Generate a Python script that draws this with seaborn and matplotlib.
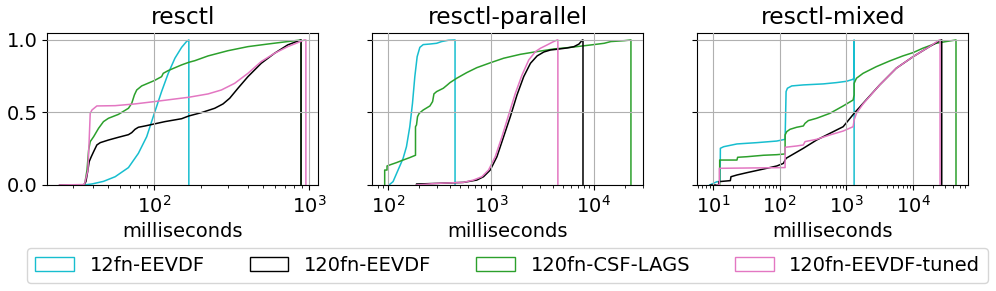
import matplotlib
matplotlib.use("Agg")
import matplotlib.pyplot as plt
import matplotlib.patches as mpatches
import seaborn as sns
import pandas as pd

# ---------------- data (CDF knots) ----------------
panels = ["resctl", "resctl-parallel", "resctl-mixed"]
series = ["12fn-EEVDF", "120fn-EEVDF", "120fn-CSF-LAGS", "120fn-EEVDF-tuned"]
colors = ["#17becf", "black", "#2ca02c", "#e377c2"]
draw_order = [0, 2, 1, 3]

# resctl
p1_cyan_x = [35.0, 39.6, 47.0, 55.9, 68.1, 78.9, 89.3, 100, 111.4, 123, 135.8, 150, 161.3, 167]
p1_cyan_y = [0.0, 0.007, 0.025, 0.057, 0.120, 0.218, 0.333, 0.494, 0.644, 0.770, 0.874, 0.949, 0.989, 1.0]
p1_black_x = [24.5, 35.0, 36.2, 37.3, 38.0, 39.2, 40.6, 42.6, 44.8, 50.6, 58.7, 68.1, 71.5, 75.1,
              78.9, 87.1, 100, 117.1, 150, 167, 201.4, 245.3, 277.5, 306.3, 346.4, 401.8, 489.3,
              596, 725.8, 884]
p1_black_y = [0.0, 0.0, 0.023, 0.103, 0.161, 0.195, 0.230, 0.276, 0.292, 0.310, 0.329, 0.347, 0.361,
              0.384, 0.398, 0.407, 0.421, 0.437, 0.457, 0.476, 0.499, 0.529, 0.559, 0.598, 0.667,
              0.747, 0.839, 0.908, 0.966, 1.0]
p1_green_x = [35.5, 36.8, 37.7, 38.6, 40.6, 43.7, 47.0, 50.6, 58.7, 68.1, 71.5, 74.4, 77.0, 82.9,
              100, 111.4, 114.2, 123, 150, 167, 182.4, 222.3, 298.8, 401.8, 539.9, 725.8, 884]
p1_green_y = [0.0, 0.103, 0.241, 0.299, 0.333, 0.391, 0.437, 0.460, 0.487, 0.529, 0.563, 0.621,
              0.655, 0.683, 0.720, 0.747, 0.770, 0.789, 0.828, 0.846, 0.857, 0.890, 0.926, 0.954,
              0.972, 0.989, 1.0]
p1_pink_x = [24.5, 35.0, 35.5, 37.3, 38.0, 38.6, 39.6, 42.6, 55.9, 75.1, 100, 135.8, 167, 222.3,
             270.7, 329.8, 401.8, 489.3, 596, 725.8, 928.8, 950]
p1_pink_y = [0.0, 0.003, 0.007, 0.103, 0.310, 0.494, 0.517, 0.545, 0.547, 0.559, 0.575, 0.593,
             0.605, 0.628, 0.655, 0.701, 0.770, 0.851, 0.908, 0.954, 1.0, 1.0]

# resctl-parallel
p2_cyan_x = [102.3, 111.9, 125.2, 140.2, 151.1, 162.8, 172.9, 182.2, 192, 203.9, 219.8, 255.4,
             296.8, 332, 385.8, 448.3]
p2_cyan_y = [0.0, 0.023, 0.103, 0.184, 0.264, 0.402, 0.563, 0.747, 0.885, 0.949, 0.968, 0.972,
             0.977, 0.989, 0.998, 1.0]
p2_black_x = [189.2, 189.2, 196.4, 296.8, 540.8, 729.8, 847.8, 985, 1145, 1330, 1545, 1795, 2085,
              2424, 2815, 3271, 3801, 4416, 5530, 6425, 7190, 7750, 7860]
p2_black_y = [0.0, 0.007, 0.007, 0.011, 0.018, 0.034, 0.057, 0.103, 0.195, 0.333, 0.471, 0.621,
              0.747, 0.839, 0.890, 0.917, 0.931, 0.936, 0.945, 0.954, 0.972, 1.0, 1.0]
p2_green_x = [92.8, 92.8, 97.8, 97.8, 103.8, 120.6, 140.2, 162.8, 185, 185, 189.2, 193.5, 200.9,
              219.8, 255.4, 271.2, 279.5, 296.8, 344.7, 377.2, 400.5, 465.4, 582.9, 729.8, 1000,
              1330, 1935, 2815, 4097, 5960, 10000, 12618, 14660, 19790, 22990]
p2_green_y = [0.0, 0.103, 0.103, 0.131, 0.138, 0.154, 0.172, 0.189, 0.205, 0.402, 0.414, 0.471,
              0.494, 0.517, 0.545, 0.575, 0.628, 0.644, 0.667, 0.690, 0.706, 0.736, 0.775, 0.809,
              0.844, 0.874, 0.901, 0.920, 0.938, 0.949, 0.968, 0.977, 0.989, 0.995, 1.0]
p2_pink_x = [189.2, 296.8, 540.8, 677, 816.6, 949, 1102, 1281, 1488, 1729, 2009, 2334, 2712, 3035,
             3526, 3946, 4416, 4480]
p2_pink_y = [0.0, 0.011, 0.018, 0.034, 0.057, 0.103, 0.195, 0.333, 0.483, 0.632, 0.759, 0.862,
             0.920, 0.943, 0.966, 0.984, 1.0, 1.0]

# resctl-mixed
p3_cyan_x = [9.02, 11.6, 12.9, 13.01, 14.58, 23.05, 45.8, 90.9, 121.1, 125.3, 131.2, 152.2, 227.1,
             451, 712.8, 1005, 1263, 1292, 1307]
p3_cyan_y = [0.0, 0.023, 0.023, 0.253, 0.264, 0.283, 0.292, 0.303, 0.315, 0.644, 0.667, 0.683,
             0.690, 0.697, 0.706, 0.715, 0.729, 0.740, 1.0]
p3_black_x = [9.23, 12.29, 12.29, 18.34, 18.76, 23.05, 32.5, 57.5, 90.9, 114.3, 125.3, 143.7, 227.1,
              358.8, 567, 896.4, 1307, 1780, 3154, 5587, 10010, 17540, 26170, 26780]
p3_black_y = [0.0, 0.0, 0.023, 0.030, 0.057, 0.069, 0.085, 0.110, 0.131, 0.149, 0.184, 0.200,
              0.253, 0.310, 0.356, 0.402, 0.494, 0.563, 0.690, 0.805, 0.885, 0.954, 1.0, 1.0]
p3_green_x = [12.29, 12.71, 12.71, 23.05, 23.58, 32.5, 57.5, 90.9, 121.1, 121.1, 128.2, 143.7,
              180.6, 227.1, 240.4, 269.7, 358.8, 567, 896.4, 1263, 1307, 1307, 1416, 1780, 2812,
              4444, 7023, 10010, 13950, 22040, 31070, 43780]
p3_green_y = [0.0, 0.0, 0.172, 0.172, 0.191, 0.195, 0.205, 0.209, 0.214, 0.345, 0.368, 0.384,
              0.398, 0.407, 0.425, 0.444, 0.460, 0.494, 0.545, 0.586, 0.621, 0.701, 0.736, 0.770,
              0.816, 0.855, 0.890, 0.913, 0.943, 0.977, 0.989, 1.0]
p3_pink_x = [11.6, 12.57, 12.57, 121.1, 121.1, 180.6, 227.1, 240.4, 358.8, 567, 896.4, 1263, 1307,
             1416, 1780, 3154, 5587, 10010, 17540, 24720, 25290]
p3_pink_y = [0.0, 0.0, 0.115, 0.120, 0.260, 0.269, 0.276, 0.299, 0.315, 0.345, 0.372, 0.402, 0.448,
             0.494, 0.559, 0.690, 0.805, 0.885, 0.954, 1.0, 1.0]

curves = [
    [(p1_cyan_x, p1_cyan_y), (p1_black_x, p1_black_y), (p1_green_x, p1_green_y), (p1_pink_x, p1_pink_y)],
    [(p2_cyan_x, p2_cyan_y), (p2_black_x, p2_black_y), (p2_green_x, p2_green_y), (p2_pink_x, p2_pink_y)],
    [(p3_cyan_x, p3_cyan_y), (p3_black_x, p3_black_y), (p3_green_x, p3_green_y), (p3_pink_x, p3_pink_y)],
]
yticks = [0.0, 0.5, 1.0]
xlabel = "milliseconds"

# ---------------- plot ----------------
plt.rcParams["font.size"] = 14
plt.rcParams["font.family"] = ["DejaVu Sans"]

fig, axes = plt.subplots(1, 3, figsize=(9.96, 2.91), dpi=100, sharey=True)
fig.subplots_adjust(left=0.0475, right=0.9722, top=0.8876, bottom=0.3643, wspace=0.2)

for ax, title, panel in zip(axes, panels, curves):
    ax.set_xscale("log")
    for i in draw_order:
        xs, ys = panel[i]
        # cumulative step outline: curve, then the final drop back to zero
        df = pd.DataFrame({"x": list(xs) + [xs[-1]], "y": list(ys) + [0.0]})
        sns.lineplot(data=df, x="x", y="y", ax=ax, estimator=None, sort=False,
                     color=colors[i], lw=1.1, legend=False)
    ax.set_title(title)
    ax.set_xlabel(xlabel)
    ax.set_ylabel("")
    ax.set_ylim(0, 1.05)
    ax.set_yticks(yticks)
    ax.grid(True)
    ax.set_axisbelow(False)

handles = [mpatches.Patch(facecolor="none", edgecolor=c, lw=1.0, label=s)
           for s, c in zip(series, colors)]
axes[1].legend(handles=handles, loc="upper center", bbox_to_anchor=(0.5, -0.35), ncol=4,
               columnspacing=2.3)

fig.savefig("out.png", dpi=100)
